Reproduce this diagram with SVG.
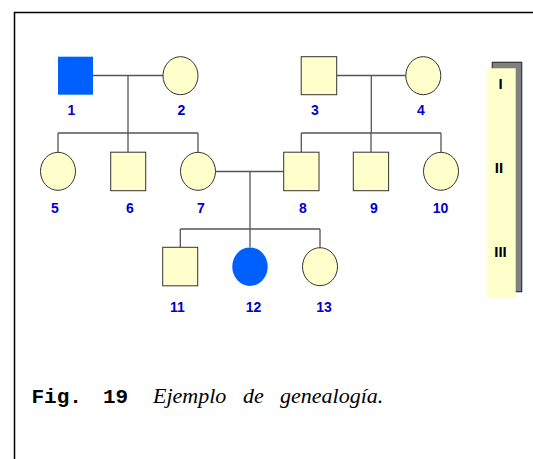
<svg xmlns="http://www.w3.org/2000/svg" width="533" height="459" viewBox="0 0 533 459">
<style>
.frame{fill:none;stroke:#000;stroke-width:1.5}
.aff{fill:#0060FF;stroke:none}
.norm{fill:#FFFFCC;stroke:#333;stroke-width:1}
.conn{fill:none;stroke:#555;stroke-width:1.3}
.lbl{font-family:"Liberation Sans",Arial,sans-serif;font-weight:bold;font-size:14px;fill:#0000CC;text-anchor:middle}
.gen{font-family:"Liberation Sans",Arial,sans-serif;font-weight:bold;font-size:15px;fill:#000;text-anchor:middle}
.figno{font-family:"Liberation Mono","Courier New",monospace;font-weight:bold;font-size:21px;fill:#000}
.cap{font-family:"Liberation Serif","Times New Roman",serif;font-style:italic;font-size:22px;fill:#000}
</style>
<rect width="533" height="459" fill="#fff"/>
<rect class="frame" x="14.5" y="12.5" width="530" height="460"/>
<g id="connectors">
<path class="conn" d="M93 75.5H163M128 75.5V133M58 133H198M58 133V152M128 133V152M198 133V152"/>
<path class="conn" d="M336.7 75.5H405.7M371.3 75.5V133M301.3 133H441M301.3 133V152M371 133V152M441 133V152"/>
<path class="conn" d="M215.7 171.5H283.7M250 171.5V229M180.3 229H320M180.3 229V247.3M250 229V247.3M320 229V247.3"/>
</g>
<g id="n1"><rect class="aff" x="58" y="56.7" width="35" height="38"/><text class="lbl" x="71.5" y="114.5">1</text></g>
<g id="n2"><ellipse class="norm" cx="180.5" cy="75.7" rx="17.5" ry="19"/><text class="lbl" x="181.5" y="114.5">2</text></g>
<g id="n3"><rect class="norm" x="301.2" y="56.7" width="35.5" height="38"/><text class="lbl" x="315" y="114.5">3</text></g>
<g id="n4"><ellipse class="norm" cx="423.3" cy="75.7" rx="17.5" ry="19"/><text class="lbl" x="421" y="114.5">4</text></g>
<g id="n5"><ellipse class="norm" cx="58" cy="171.3" rx="17.5" ry="19"/><text class="lbl" x="55" y="213.3">5</text></g>
<g id="n6"><rect class="norm" x="110.7" y="152.2" width="35" height="38.5"/><text class="lbl" x="130" y="213.3">6</text></g>
<g id="n7"><ellipse class="norm" cx="198" cy="171.3" rx="17.5" ry="19"/><text class="lbl" x="201" y="213.3">7</text></g>
<g id="n8"><rect class="norm" x="283.7" y="152.2" width="35.3" height="38.5"/><text class="lbl" x="303" y="213.3">8</text></g>
<g id="n9"><rect class="norm" x="353.3" y="152.2" width="35.3" height="38.5"/><text class="lbl" x="374" y="213.3">9</text></g>
<g id="n10"><ellipse class="norm" cx="441" cy="171.3" rx="17.5" ry="19"/><text class="lbl" x="440.5" y="213.3">10</text></g>
<g id="n11"><rect class="norm" x="162.7" y="247.3" width="35" height="38.5"/><text class="lbl" x="177.5" y="311.5">11</text></g>
<g id="n12"><ellipse class="aff" cx="250" cy="266.7" rx="17.7" ry="19.3"/><text class="lbl" x="253.5" y="311.5">12</text></g>
<g id="n13"><ellipse class="norm" cx="320" cy="266.7" rx="17.5" ry="19"/><text class="lbl" x="324" y="311.5">13</text></g>
<g id="generations">
<rect x="492.3" y="62.3" width="29.4" height="229.4" fill="#808080" stroke="#333" stroke-width="1.2"/>
<rect x="486.7" y="68.3" width="29" height="230" fill="#FFFFCC"/>
<text class="gen" x="500.5" y="88.5">I</text>
<text class="gen" x="499" y="172.5">II</text>
<text class="gen" x="500.5" y="256.5">III</text>
</g>
<g id="caption">
<text class="figno" x="31.5" y="402.5">Fig. <tspan x="103">19</tspan></text>
<text class="cap" x="153" y="402.5">Ejemplo <tspan x="243">de </tspan><tspan x="280">genealogía.</tspan></text>
</g>
</svg>
